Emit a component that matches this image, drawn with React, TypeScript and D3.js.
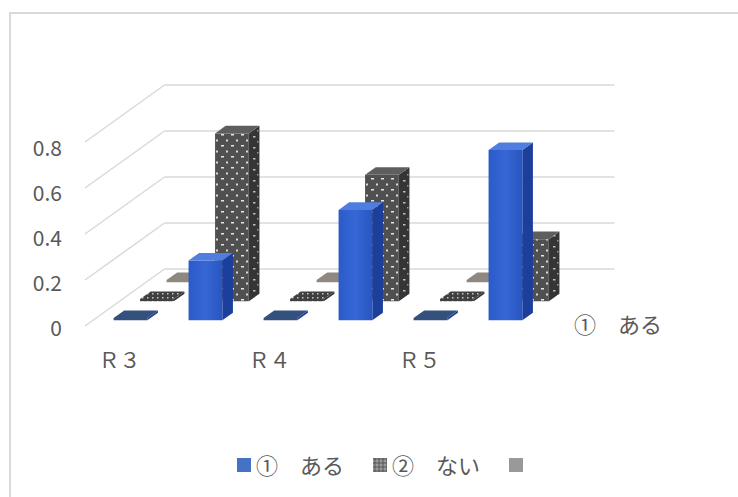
import React from "react";
import * as d3 from "d3";

const categories = ["Ｒ３", "", "Ｒ４", "", "Ｒ５", ""];
const seriesNames = ["①　ある", "②　ない", ""];
const aruValues: (number | null)[] = [0, 0.26, 0, 0.48, 0, 0.74];
const naiValues: (number | null)[] = [0, 0.73, 0, 0.55, 0, 0.27];
const thirdValues: (number | null)[] = [0, null, 0, null, 0, null];
const yTicks = [0, 0.2, 0.4, 0.6, 0.8];

const W = 738;
const H = 497;
const X0 = 85; // front-left floor corner
const Y0 = 326;
const FLOOR_W = 450;
const DEPTH_DX = 26.5; // per row
const DEPTH_DY = -19;
const K = 230; // px per unit value

const FONT = "'Noto Sans CJK JP', 'Noto Sans', sans-serif";
const TEXT = "#595959";

const xScale = d3
  .scaleBand<number>()
  .domain(d3.range(categories.length))
  .range([0, FLOOR_W])
  .paddingInner(0.55)
  .paddingOuter(0.275);

const zScale = d3
  .scaleBand<number>()
  .domain([0, 1, 2])
  .range([0, 3])
  .paddingInner(0.6)
  .paddingOuter(0.3);

const vScale = d3.scaleLinear().domain([0, 1]).range([0, K]);
const labelScale = d3.scaleLinear().domain([0, 0.8]).range([327, 147]);

function P(x: number, d: number, v: number): [number, number] {
  return [X0 + x + d * DEPTH_DX, Y0 - vScale(v) + d * DEPTH_DY];
}
function poly(pts: [number, number][]) {
  return pts.map((p) => p[0].toFixed(2) + "," + p[1].toFixed(2)).join(" ");
}

type Style = { front: string; side: string; top: string; flatTop: string };
const styles: Style[] = [
  { front: "url(#blueFront)", side: "#1d3f9c", top: "#4f7ee0", flatTop: "#34507c" },
  { front: "url(#dotsFront)", side: "url(#dotsSide)", top: "#5e5e5e", flatTop: "url(#dotsFlat)" },
  { front: "#8f8a84", side: "#77736e", top: "#9a958e", flatTop: "#8e8880" },
];
const allSeries = [aruValues, naiValues, thirdValues];

function Bar({ i, s, v }: { i: number; s: number; v: number }) {
  const x0 = xScale(i)!;
  const x1 = x0 + xScale.bandwidth();
  const d0 = zScale(s)!;
  const d1 = d0 + zScale.bandwidth();
  const flat = v === 0;
  const h = flat ? 0.01 : v;
  const st = styles[s];
  const front = [P(x0, d0, 0), P(x1, d0, 0), P(x1, d0, h), P(x0, d0, h)];
  const side = [P(x1, d0, 0), P(x1, d1, 0), P(x1, d1, h), P(x1, d0, h)];
  const top = [P(x0, d0, h), P(x1, d0, h), P(x1, d1, h), P(x0, d1, h)];
  return (
    <g>
      <polygon points={poly(side)} fill={st.side} />
      <polygon points={poly(front)} fill={flat ? st.flatTop : st.front} />
      <polygon points={poly(top)} fill={flat ? st.flatTop : st.top} />
    </g>
  );
}

export default function App() {
  const bars: JSX.Element[] = [];
  for (let s = allSeries.length - 1; s >= 0; s--) {
    allSeries[s].forEach((v, i) => {
      if (v === null) return;
      bars.push(<Bar key={`b${s}-${i}`} i={i} s={s} v={v} />);
    });
  }
  return (
    <svg
      width={W}
      height={H}
      style={{ position: "absolute", left: 0, top: 0, background: "#fff" }}
      fontFamily={FONT}
    >
      <defs>
        <linearGradient id="blueFront" x1="0" x2="1" y1="0" y2="0">
          <stop offset="0" stopColor="#2b5ac9" />
          <stop offset="0.5" stopColor="#3767d6" />
          <stop offset="1" stopColor="#2855c0" />
        </linearGradient>
        <pattern id="dotsFront" width="10" height="11" patternUnits="userSpaceOnUse">
          <rect width="10" height="11" fill="#505050" />
          <rect x="1" y="2" width="3" height="1.5" fill="#e6e6e6" />
          <rect x="6" y="7.5" width="2" height="2" fill="#d8d8d8" />
        </pattern>
        <pattern id="dotsSide" width="10" height="11" patternUnits="userSpaceOnUse">
          <rect width="10" height="11" fill="#353535" />
          <rect x="3" y="4" width="2.5" height="1.5" fill="#bdbdbd" />
          <rect x="7" y="9" width="1.5" height="1.5" fill="#999" />
        </pattern>
        <pattern id="dotsFlat" width="5" height="4" patternUnits="userSpaceOnUse">
          <rect width="5" height="4" fill="#404040" />
          <rect x="2" y="1" width="1.5" height="1.5" fill="#c8c8c8" />
        </pattern>
        <pattern id="legendDots" width="4" height="4" patternUnits="userSpaceOnUse">
          <rect width="4" height="4" fill="#7a7a7a" />
          <rect x="0" y="0" width="2" height="2" fill="#9a9a9a" />
          <rect x="2" y="2" width="2" height="2" fill="#666" />
        </pattern>
      </defs>

      {/* chart frame */}
      <path d={`M10,${H} V13 H${W}`} fill="none" stroke="#d9d9d9" strokeWidth={2} />

      {/* back wall and side wall gridlines */}
      {yTicks.map((t) => {
        const a = P(0, 3, t);
        const b = P(FLOOR_W, 3, t);
        const c = P(0, 0, t);
        return (
          <g key={`g${t}`} stroke="#d9d9d9" strokeWidth={1.5} fill="none">
            <line x1={a[0]} y1={a[1]} x2={b[0]} y2={b[1]} />
            <line x1={a[0]} y1={a[1]} x2={c[0]} y2={c[1]} />
          </g>
        );
      })}

      {bars}

      {/* value axis labels */}
      {yTicks.map((t) => (
        <text
          key={`y${t}`}
          x={62}
          y={labelScale(t)}
          textAnchor="end"
          dominantBaseline="central"
          fontSize={21}
          fill={TEXT}
        >
          {t === 0 ? "0" : t.toFixed(1)}
        </text>
      ))}

      {/* category labels */}
      {categories.map((c, i) =>
        c ? (
          <text
            key={`c${i}`}
            x={X0 + xScale(i)! + xScale.bandwidth() / 2 - 3}
            y={359}
            textAnchor="middle"
            dominantBaseline="central"
            fontSize={21}
            fill={TEXT}
          >
            {c}
          </text>
        ) : null
      )}

      {/* depth axis label */}
      <text x={574} y={323} dominantBaseline="central" fontSize={22} fill={TEXT}>
        {seriesNames[0]}
      </text>

      {/* legend */}
      {[
        { x: 237, fill: "#4472c4", label: seriesNames[0] },
        { x: 373, fill: "url(#legendDots)", label: seriesNames[1] },
        { x: 509, fill: "#999999", label: seriesNames[2] },
      ].map((l, k) => (
        <g key={`l${k}`}>
          <rect x={l.x} y={458} width={14} height={14} fill={l.fill} />
          <text x={l.x + 19} y={464} dominantBaseline="central" fontSize={22} fill={TEXT}>
            {l.label}
          </text>
        </g>
      ))}
    </svg>
  );
}
